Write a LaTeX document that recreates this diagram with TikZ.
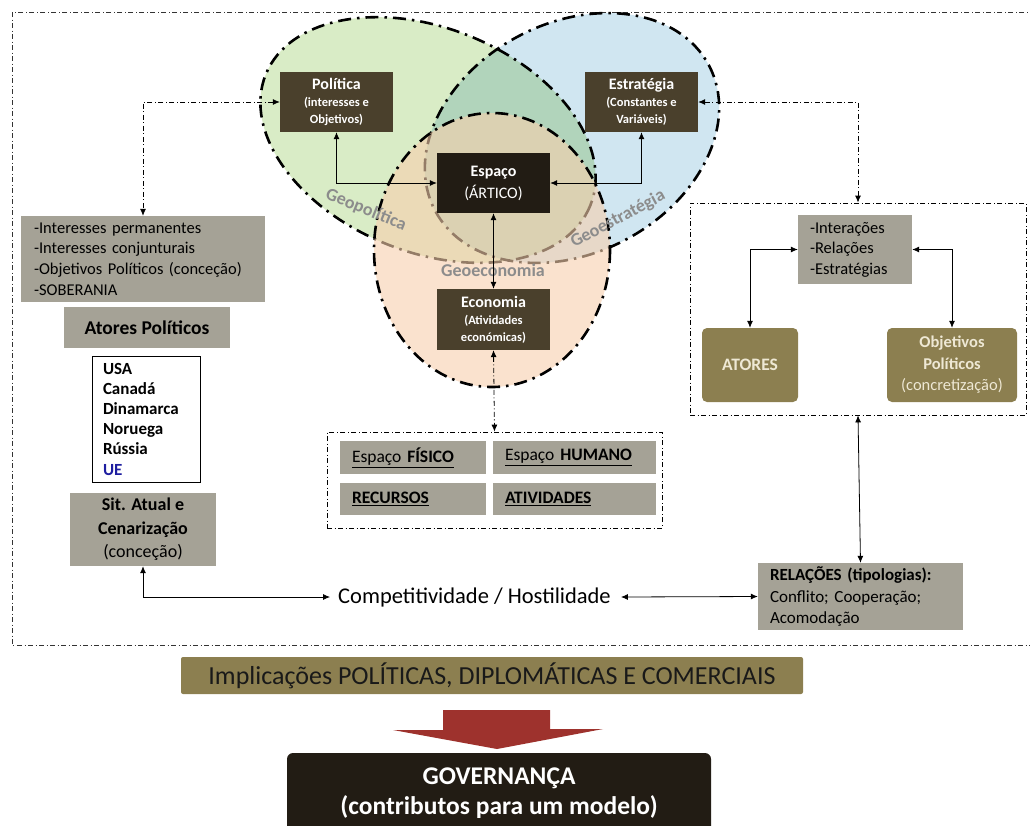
\documentclass[tikz,border=0pt]{standalone}
\usepackage{fontspec}
\setmainfont{Carlito}
\usepackage{xcolor}
\usepackage{tikz}
\usetikzlibrary{arrows.meta}
\definecolor{boxbrown}{RGB}{74,64,44}
\definecolor{boxdark}{RGB}{34,28,20}
\definecolor{boxgray}{RGB}{165,162,150}
\definecolor{boxolive}{RGB}{140,127,80}
\definecolor{olivetext}{RGB}{238,232,212}
\definecolor{geogreen}{RGB}{217,236,198}
\definecolor{geoblue}{RGB}{208,230,241}
\definecolor{geoorange}{RGB}{247,207,173}
\definecolor{geolabel}{RGB}{140,140,140}
\definecolor{arrowred}{RGB}{158,50,45}
\definecolor{ueblue}{RGB}{30,30,160}
\newcommand{\fs}[2]{\fontsize{#1}{#2}\selectfont}
\tikzset{
darkbox/.style={
  rectangle, fill=boxbrown, text=white,
  align=center, inner sep=0pt,
  minimum width=113pt, minimum height=60pt,
  font=\bfseries\fs{12.5}{17}
},
graybox/.style={rectangle, fill=boxgray, inner sep=0pt},
olivebox/.style={
  rectangle, rounded corners=5pt, fill=boxolive, text=olivetext,
  align=center, inner sep=0pt
},
dashdot/.style={dash pattern=on 5pt off 2.5pt on 1pt off 2.5pt, line width=0.8pt},
geoline/.style={dash pattern=on 13pt off 6pt on 2.5pt off 6pt, line width=2.6pt},
link/.style={{Latex[length=7pt,width=6pt]}-{Latex[length=7pt,width=6pt]}, line width=0.8pt},
geo/.style={text=geolabel, font=\bfseries\fs{18}{20}, inner sep=1pt},
}
\begin{document}
\begin{tikzpicture}[x=1pt,y=-1pt]
\useasboundingbox (0,0) rectangle (1030,825);
% the outer frame
\draw[dashdot, black!80] (12,12) rectangle (1040,645);
% the three circles
\fill[geogreen, shift={(428,140)}, rotate=-22] (0,0) ellipse [x radius=175, y radius=112];
\fill[geoblue, blend mode=multiply, shift={(572,138)}, rotate=28] (0,0) ellipse [x radius=155, y radius=115];
\draw[geoline, shift={(428,140)}, rotate=-22] (0,0) ellipse [x radius=175, y radius=112];
\draw[geoline, shift={(572,138)}, rotate=28] (0,0) ellipse [x radius=155, y radius=115];
\fill[geoorange, fill opacity=0.6] (492,250) ellipse [x radius=118, y radius=137];
\draw[geoline] (492,250) ellipse [x radius=118, y radius=137];
\node[geo, rotate=-22] (lgpol) at (366,210) {Geopolítica};
\node[geo, rotate=28] (lgest) at (618,219) {Geoestratégia};
\node[geo] (lgeco) at (493,270) {Geoeconomia};
% the central boxes
\node[darkbox] (pol) at (336.5,102)
  {{\fs{16}{17}Política}\\(interesses e\\Objetivos)};
\node[darkbox] (estr) at (641.5,102)
  {{\fs{16}{17}Estratégia}\\(Constantes e\\Variáveis)};
\node[darkbox, fill=boxdark, font=\bfseries\fs{16}{22}] (esp) at (493.5,183)
  {Espaço\\{\mdseries(ÁRTICO)}};
\node[darkbox, minimum height=61pt] (eco) at (493.5,319.5)
  {{\fs{16}{17}Economia}\\(Atividades\\económicas)};
% left column
\node[graybox, text width=218pt, inner xsep=13pt, minimum height=86pt, align=left,
  font=\fs{16.5}{20.7}] (intbox) at (143,259)
  {-Interesses permanentes\\-Interesses conjunturais\\-Objetivos Políticos (conceção)\\-SOBERANIA};
\node[graybox, minimum width=166pt, minimum height=41pt, font=\bfseries\fs{19.5}{22}] (atpol) at (147,327.5)
  {Atores Políticos};
\node[draw, fill=white, line width=0.8pt, text width=86pt, inner xsep=11pt, minimum height=126pt,
  align=left, font=\bfseries\fs{17}{20.2}] (paises) at (146,419)
  {USA\\Canadá\\Dinamarca\\Noruega\\Rússia\\\textcolor{ueblue}{UE}};
\node[graybox, minimum width=146pt, minimum height=73pt, align=center,
  font=\bfseries\fs{18}{23.5}] (sit) at (143,529.5)
  {Sit. Atual e\\Cenarização\\{\mdseries(conceção)}};
% economia group
\node[draw, dashdot, minimum width=335pt, minimum height=96pt] (ecogroup) at (494.5,480) {};
\foreach \nm/\x/\y/\w/\t in {
  fis/413/457.5/146/{Espaço \textbf{FÍSICO}},
  hum/574.5/457.5/163/{Espaço \textbf{HUMANO}},
  rec/413/499/146/{\textbf{RECURSOS}},
  ati/574.5/499/163/{\textbf{ATIVIDADES}}}
{
  \node[graybox, text width=\w pt-24pt, inner xsep=12pt, minimum height=32.5pt,
    align=left, font=\fs{17.5}{20}] (\nm) at (\x,\y) {\underline{\t}};
}
% right group
\node[draw, dashdot, minimum width=336pt, minimum height=212pt] (rgroup) at (858,309) {};
\node[graybox, text width=90pt, inner xsep=12pt, minimum height=69pt, align=left,
  font=\fs{16.5}{20.5}] (irel) at (855,249.5)
  {-Interações\\-Relações\\-Estratégias};
\node[olivebox, minimum width=96pt, minimum height=74pt, font=\bfseries\fs{17.5}{20}] (atores) at (750,365)
  {ATORES};
\node[olivebox, minimum width=130pt, minimum height=74pt, font=\bfseries\fs{16.5}{21.5}] (objpol) at (952,365)
  {Objetivos\\Políticos\\{\mdseries(concretização)}};
\node[graybox, text width=181pt, inner xsep=12pt, minimum height=67pt, align=left,
  font=\fs{17}{21.5}] (rel) at (860.5,596.5)
  {\textbf{RELAÇÕES (tipologias):}\\Conflito; Cooperação;\\Acomodação};
\node[font=\fs{22.5}{26}, inner sep=2pt] (comp) at (474.5,597) {Competitividade / Hostilidade};
% the arrows
\draw[link] (pol.south) |- (esp.west);
\draw[link] (estr.south) |- (esp.east);
\draw[link] (esp.south) -- (eco.north);
\draw[link, dashdot] (eco.south) -- (ecogroup.north);
\draw[link, dashdot] (pol.west) -| (intbox.north);
\draw[link, dashdot] (estr.east) -| (rgroup.north);
\draw[link] (irel.west) -| (atores.north);
\draw[link] (irel.east) -| (objpol.north);
\draw[link] (rgroup.south) -- (rel.north);
\draw[link] (sit.south) |- ([xshift=-6pt]comp.west);
\draw[link] ([xshift=8pt]comp.east) -- (rel.west);
% bottom part
\node[rectangle, rounded corners=2pt, fill=boxolive, minimum width=622pt, minimum height=37pt,
  text=black!90, font=\fs{26}{28}] (impl) at (492,675.5)
  {Implicações POLÍTICAS, DIPLOMÁTICAS E COMERCIAIS};
\fill[arrowred] (443,710) -- (550,710) -- (550,729) -- (603,729) -- (497,749)
  -- (393,730) -- (443,730) -- cycle;
\node[rectangle, rounded corners=6pt, fill=boxdark, text=white, minimum width=424pt,
  minimum height=80pt, align=center, font=\bfseries\fs{25.5}{30}] (gov) at (499,793)
  {GOVERNANÇA\\(contributos para um modelo)};
\end{tikzpicture}
\end{document}
